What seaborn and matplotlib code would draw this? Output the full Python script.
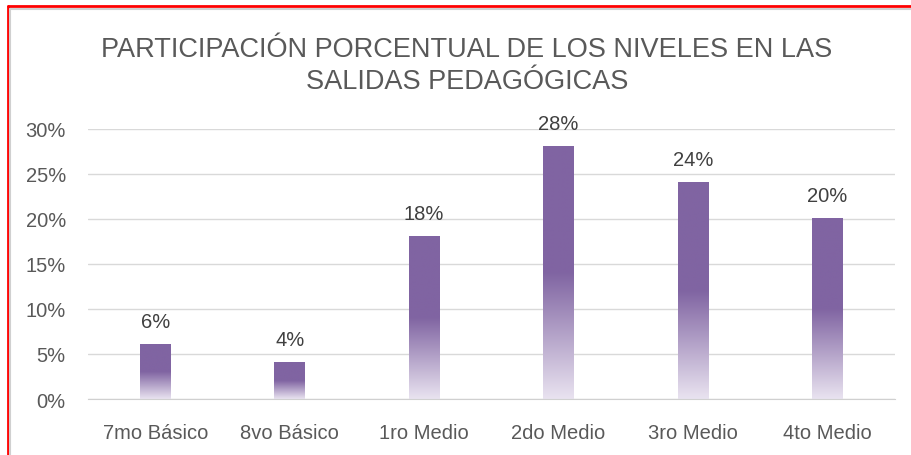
import matplotlib.pyplot as plt
import matplotlib.lines as mlines
import numpy as np
import pandas as pd
import seaborn as sns
from matplotlib.colors import LinearSegmentedColormap

niveles = ["7mo Básico", "8vo Básico", "1ro Medio", "2do Medio", "3ro Medio", "4to Medio"]
porcentajes = [6, 4, 18, 28, 24, 20]
ticks_y = [0, 5, 10, 15, 20, 25, 30]

titulo = "PARTICIPACIÓN PORCENTUAL DE LOS NIVELES EN LAS\nSALIDAS PEDAGÓGICAS"

df = pd.DataFrame({"nivel": niveles, "pct": porcentajes})

sns.set_style("white")
plt.rcParams['font.family'] = ['Liberation Sans', 'DejaVu Sans']

fig = plt.figure(figsize=(9.12, 4.56), dpi=100)
ax = fig.add_axes([0.0965, 0.1228, 0.8845, 0.5922])

sns.barplot(data=df, x="nivel", y="pct", color="#8064A2", width=0.23, ax=ax)

# degradado: color solido arriba, se aclara en la mitad inferior
cmap = LinearSegmentedColormap.from_list(
    "morado", [(0, "#E9E3F0"), (0.5, "#8064A2"), (1, "#8064A2")])
grad = np.linspace(0, 1, 256).reshape(-1, 1)
for p in ax.patches:
    x0, y0 = p.get_x(), p.get_y()
    w, h = p.get_width(), p.get_height()
    p.set_facecolor("none")
    p.set_edgecolor("none")
    ax.imshow(grad, cmap=cmap, extent=(x0, x0 + w, y0, y0 + h),
              origin="lower", aspect="auto", zorder=2, interpolation="bilinear")

ax.bar_label(ax.containers[0], labels=[f"{v}%" for v in porcentajes],
             padding=10, fontsize=14.5, color="#404040")

ax.set_xlim(-0.5, len(niveles) - 0.5)
ax.set_ylim(0, 30)
ax.set_yticks(ticks_y)
ax.set_yticklabels([f"{t}%" for t in ticks_y])
ax.yaxis.grid(True, color="#D9D9D9", linewidth=1)
ax.set_axisbelow(True)
ax.set_xlabel("")
ax.set_ylabel("")
for s in ["top", "right", "left"]:
    ax.spines[s].set_visible(False)
ax.spines["bottom"].set_color("#D0D0D0")
ax.tick_params(axis="both", length=0, labelsize=14.5, colors="#595959")
ax.tick_params(axis="x", pad=17)
ax.tick_params(axis="y", pad=16)

fig.text(467 / 912, 0.855, titulo, ha="center", va="center",
         fontsize=19.5, color="#595959", linespacing=1.3)

# marco rojo de la imagen
fig.add_artist(mlines.Line2D([8 / 912, 8 / 912], [0, 1 - 7 / 456], color="red", lw=2))
fig.add_artist(mlines.Line2D([8 / 912, 1], [1 - 7 / 456, 1 - 7 / 456], color="red", lw=2))
fig.add_artist(mlines.Line2D([10.5 / 912, 10.5 / 912], [0, 1 - 9.5 / 456], color="#D0D0D0", lw=1.5))
fig.add_artist(mlines.Line2D([10.5 / 912, 1], [1 - 9.5 / 456, 1 - 9.5 / 456], color="#D0D0D0", lw=1.5))

fig.savefig("out.png", dpi=100)
